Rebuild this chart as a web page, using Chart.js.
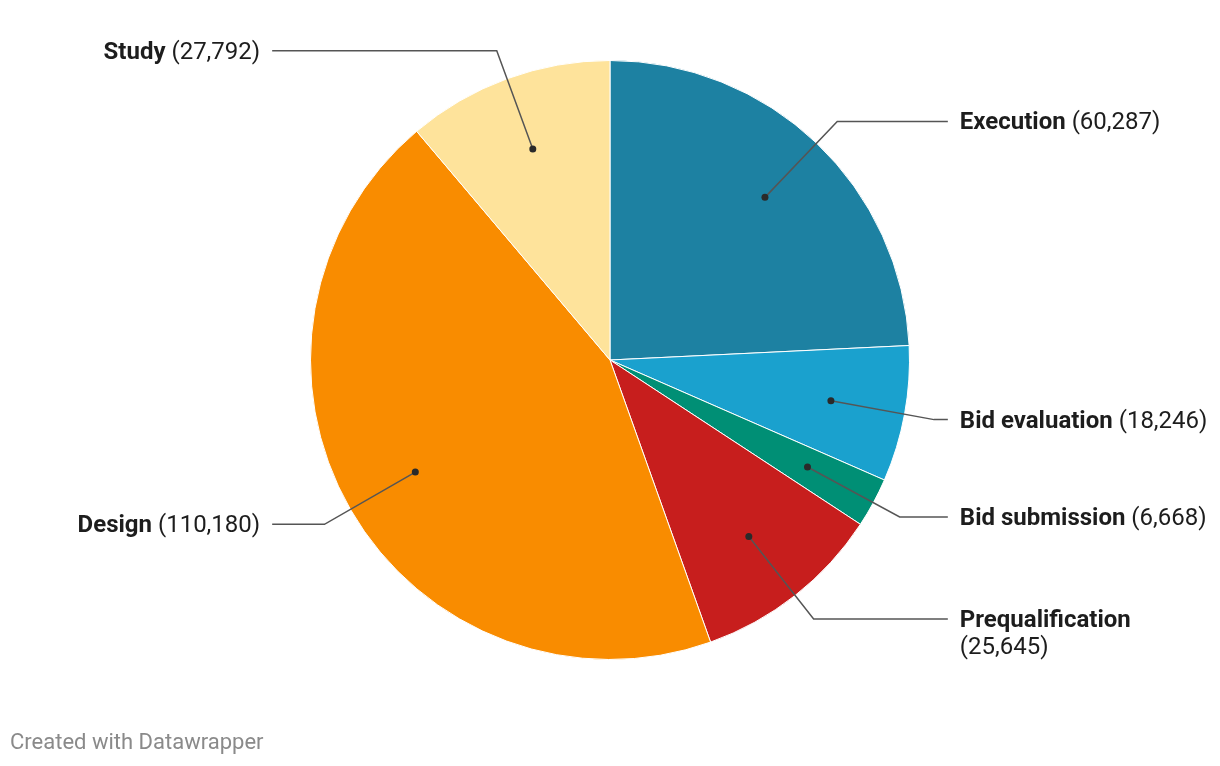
<!DOCTYPE html>
<html>
<head>
<meta charset="utf-8">
<script src="https://cdn.jsdelivr.net/npm/chart.js@4"></script>
<style>
  html, body { margin: 0; padding: 0; background: #fff; }
  #wrap { position: relative; width: 1220px; height: 766px; }
  #footer {
    position: absolute; left: 10px; top: 729px;
    font-family: Roboto, sans-serif; font-size: 22px; line-height: 26px; color: #8a8a8a;
  }
</style>
</head>
<body>
<div id="wrap">
  <canvas id="pieChart" width="1220" height="766"></canvas>
  <div id="footer">Created with Datawrapper</div>
</div>
<script>
// Données
const categories = ['Execution', 'Bid evaluation', 'Bid submission', 'Prequalification', 'Design', 'Study'];
const values = [60287, 18246, 6668, 25645, 110180, 27792];
const colors = ['#1d81a2', '#1aa1ce', '#008f75', '#c71e1d', '#f98c00', '#fee39b'];

// Étiquettes avec lignes de rappel
const leaderLabels = {
    id: 'leaderLabels',
    afterDatasetsDraw(chart) {
        const ctx = chart.ctx;
        const meta = chart.getDatasetMeta(0);
        meta.data.forEach((arc, i) => {
            const r = arc.outerRadius;
            const mid = (arc.startAngle + arc.endAngle) / 2;
            const cos = Math.cos(mid), sin = Math.sin(mid);
            const dot = { x: arc.x + cos * r * 0.75, y: arc.y + sin * r * 0.75 };
            const elbow = { x: arc.x + cos * r * 1.1, y: arc.y + sin * r * 1.1 };
            const right = cos >= 0;
            const endX = arc.x + (right ? 1 : -1) * r * 1.128;

            ctx.save();
            ctx.strokeStyle = '#555';
            ctx.lineWidth = 1.5;
            ctx.beginPath();
            ctx.moveTo(dot.x, dot.y);
            ctx.lineTo(elbow.x, elbow.y);
            ctx.lineTo(endX, elbow.y);
            ctx.stroke();
            ctx.fillStyle = '#2a2a2a';
            ctx.beginPath();
            ctx.arc(dot.x, dot.y, 3.5, 0, Math.PI * 2);
            ctx.fill();

            const name = categories[i];
            const num = ' (' + values[i].toLocaleString('en-US') + ')';
            const bold = 'bold 24px Roboto, sans-serif';
            const normal = '24px Roboto, sans-serif';
            ctx.font = bold;
            const wName = ctx.measureText(name).width;
            ctx.font = normal;
            const wNum = ctx.measureText(num).width;
            ctx.fillStyle = '#1d1d1d';
            ctx.textBaseline = 'middle';
            ctx.textAlign = 'left';
            const ty = elbow.y + 2;
            const tx = right ? endX + 12 : endX - 12 - wName - wNum;
            const maxW = chart.width - 10 - (endX + 12);
            if (right && wName + wNum > maxW) {
                ctx.font = bold;
                ctx.fillText(name, tx, ty);
                ctx.font = normal;
                ctx.fillText(num.trim(), tx, ty + 27);
            } else {
                ctx.font = bold;
                ctx.fillText(name, tx, ty);
                ctx.font = normal;
                ctx.fillText(num, tx + wName, ty);
            }
            ctx.restore();
        });
    }
};

const ctx = document.getElementById('pieChart').getContext('2d');
const pieChart = new Chart(ctx, {
    type: 'pie',
    data: {
        labels: categories,
        datasets: [{
            data: values,
            backgroundColor: colors,
            borderColor: '#ffffff',
            borderWidth: 1,
        }],
    },
    options: {
        responsive: false,
        animation: false,
        layout: { padding: { top: 60, bottom: 106 } },
        plugins: {
            legend: { display: false },
            tooltip: { enabled: false },
        },
    },
    plugins: [leaderLabels],
});
</script>
</body>
</html>
